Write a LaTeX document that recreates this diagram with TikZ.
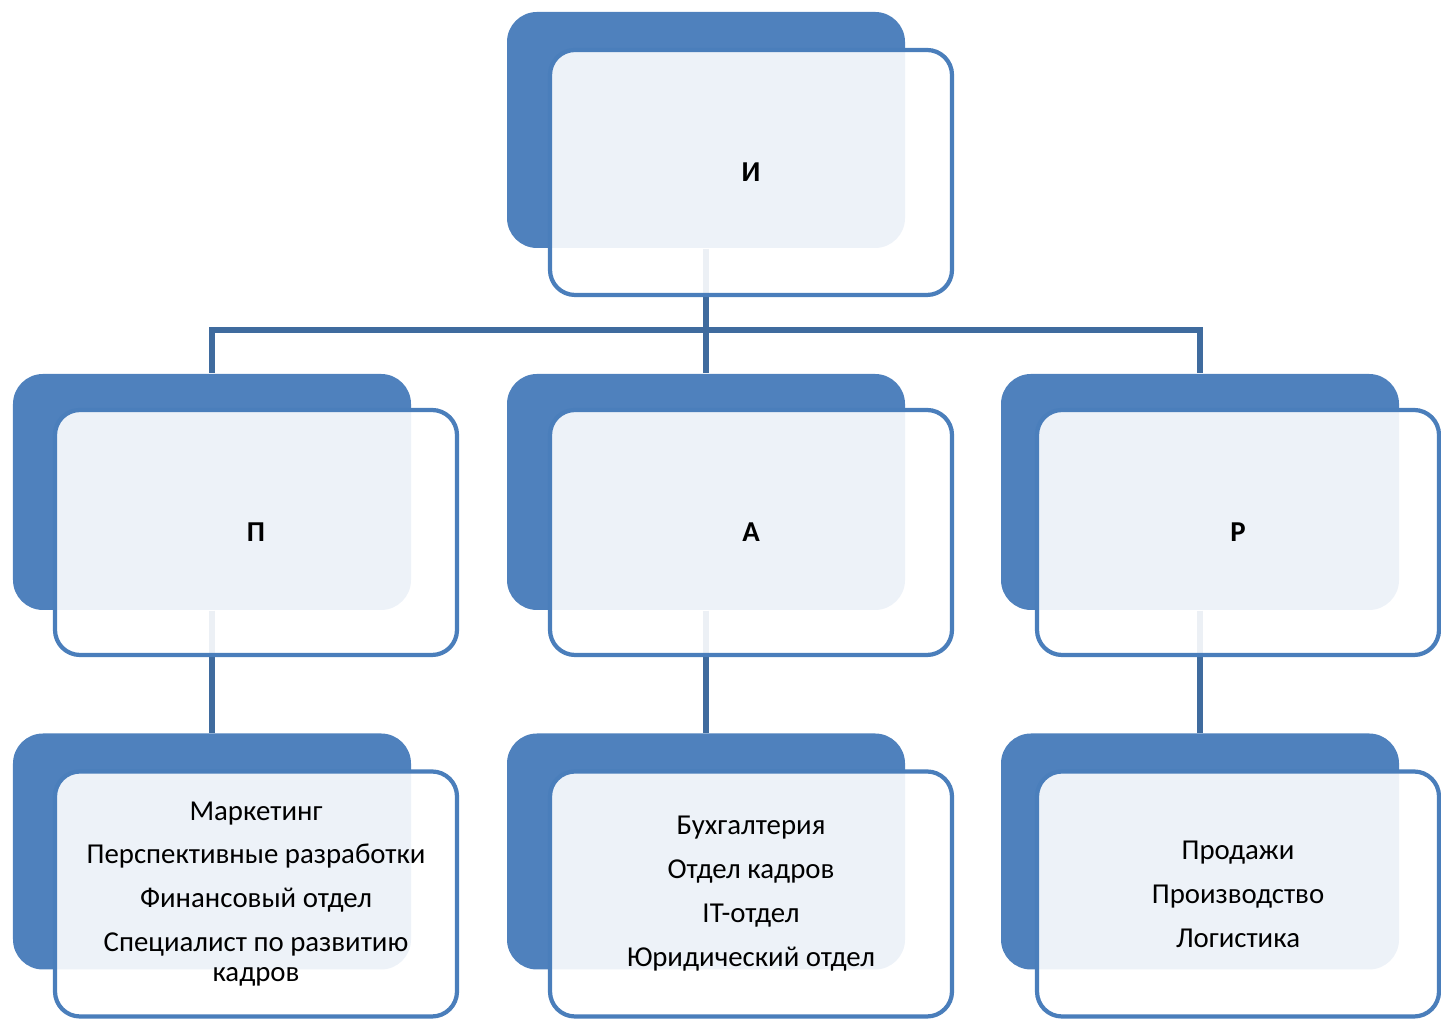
\documentclass[tikz,border=0pt]{standalone}
\usepackage{fontspec}
\setmainfont{Carlito}
\definecolor{boxblue}{HTML}{4F81BD}
\definecolor{edgeblue}{HTML}{4A7EBB}
\definecolor{linkblue}{HTML}{3F6B9E}
\tikzset{
	backbox/.style={fill=boxblue, draw=none, rounded corners=0.3cm, minimum width=3.98cm, minimum height=2.36cm},
	frontbox/.style={draw=edgeblue, line width=1.2pt, fill=white, fill opacity=0.9, text opacity=1, rounded corners=0.25cm, minimum width=4.02cm, minimum height=2.45cm, align=center, font=\fontsize{8.2}{8.5}\selectfont},
	link/.style={draw=linkblue, line width=1.6pt}
}

\begin{document}
\begin{tikzpicture}
			%%%%% START %%%%%
			\useasboundingbox (0, 0) rectangle (14.41, 10.20);
			
			\node[backbox] (iB) at (7.06, 8.90) {};
			
			\node[backbox] (pB) at (2.12, 5.28) {};
			\node[backbox] (aB) at (7.06, 5.28) {};
			\node[backbox] (rB) at (12.00, 5.28) {};
			
			\node[backbox] (pListB) at (2.12, 1.685) {};
			\node[backbox] (aListB) at (7.06, 1.685) {};
			\node[backbox] (rListB) at (12.00, 1.685) {};
			
			\coordinate (bus) at (7.06, 6.90);
			\draw[link] (iB.south) -- (bus);
			\draw[link] (bus) -| (pB.north);
			\draw[link] (bus) -- (aB.north);
			\draw[link] (bus) -| (rB.north);
			
			\draw[link] (pB.south) -- (pListB.north);
			\draw[link] (aB.south) -- (aListB.north);
			\draw[link] (rB.south) -- (rListB.north);
			
			\node[frontbox] (iF) at (7.51, 8.475) {\textbf{И}};
			
			\node[frontbox] (pF) at (2.56, 4.875) {\textbf{П}};
			\node[frontbox] (aF) at (7.51, 4.875) {\textbf{А}};
			\node[frontbox] (rF) at (12.38, 4.875) {\textbf{Р}};
			
			\node[frontbox] (pListF) at (2.56, 1.26) {Маркетинг\\[4pt]Перспективные разработки\\[4pt]Финансовый отдел\\[4pt]Специалист по развитию\\кадров};
			\node[frontbox] (aListF) at (7.51, 1.26) {Бухгалтерия\\[4pt]Отдел кадров\\[4pt]IT-отдел\\[4pt]Юридический отдел};
			\node[frontbox] (rListF) at (12.38, 1.26) {Продажи\\[4pt]Производство\\[4pt]Логистика};
			
			%%%%% END %%%%%
\end{tikzpicture}
\end{document}
